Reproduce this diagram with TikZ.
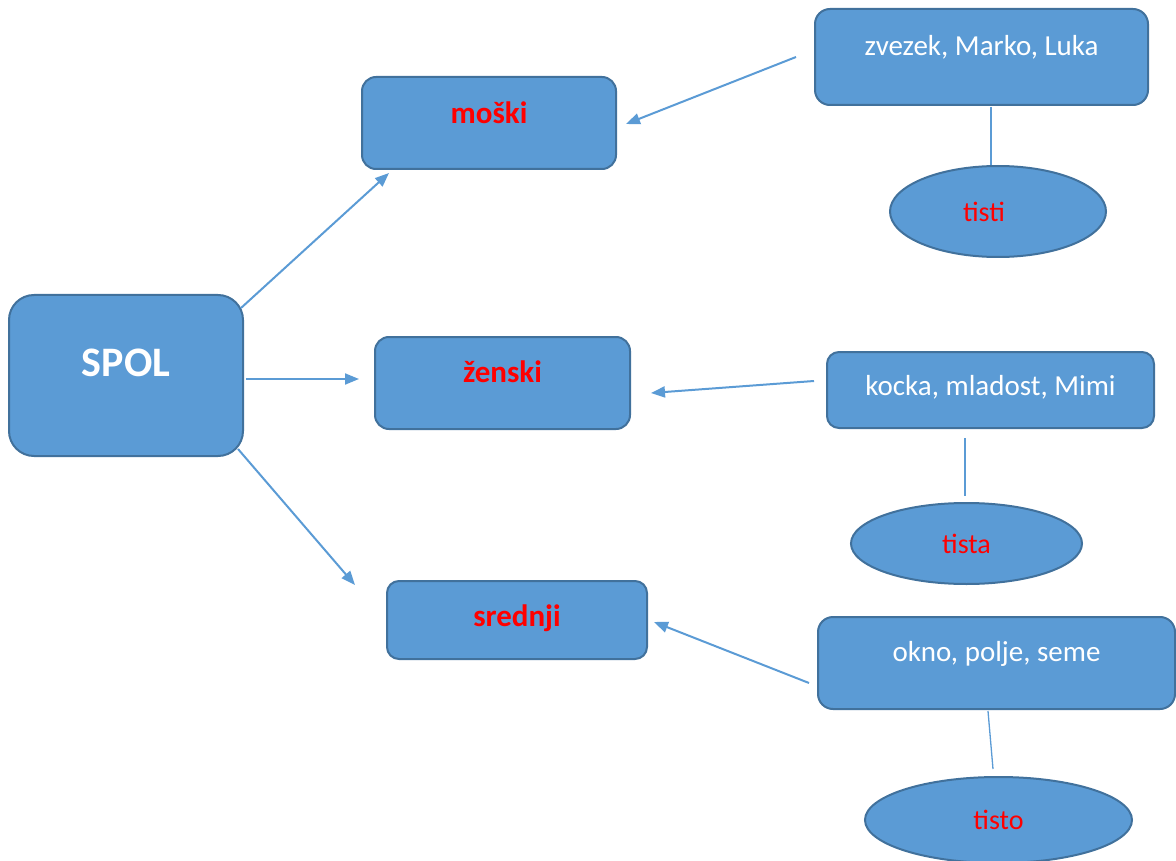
\documentclass[tikz,border=0pt]{standalone}
\usepackage{fontspec}
\setmainfont{Carlito}
\usetikzlibrary{shapes.geometric,arrows.meta,calc}
\definecolor{boxfill}{HTML}{5B9BD5}
\definecolor{boxline}{HTML}{41719C}
\definecolor{labred}{HTML}{FF0000}
\tikzset{
  box/.style={draw=boxline, fill=boxfill, line width=2pt, rectangle, rounded corners=14pt, inner sep=0pt, text=white},
  oval/.style={draw=boxline, fill=boxfill, line width=2pt, ellipse, inner sep=0pt, text=labred, font=\fontsize{28}{32}\selectfont},
  arr/.style={draw=boxfill, line width=2pt, -{Triangle[length=14pt,width=11pt]}},
  link/.style={draw=boxfill, line width=1.3pt},
  redlab/.style={text=labred, font=\bfseries\fontsize{31}{35}\selectfont},
  whitelab/.style={font=\fontsize{29}{34}\selectfont},
}
\begin{document}
\begin{tikzpicture}[x=1pt,y=-1pt]
\useasboundingbox (0,0) rectangle (1176,861);
% main box
\node[box, rounded corners=25pt, minimum width=234pt, minimum height=161pt, font=\bfseries\fontsize{42}{48}\selectfont] (spol) at (126,375.5) {\raisebox{25pt}{SPOL}};
% gender boxes
\node[box, redlab, minimum width=254pt, minimum height=92pt] (moski) at (489,123) {\raisebox{21pt}{moški}};
\node[box, redlab, minimum width=255pt, minimum height=92pt] (zenski) at (502.5,383) {\raisebox{22pt}{ženski}};
\node[box, redlab, rounded corners=12pt, minimum width=260pt, minimum height=78pt] (srednji) at (517,620) {\raisebox{9pt}{srednji}};
% example boxes
\node[box, whitelab, rounded corners=15pt, minimum width=333pt, minimum height=96pt] (zvezek) at (981.5,57) {\raisebox{23pt}{zvezek, Marko, Luka}};
\node[box, whitelab, rounded corners=12pt, minimum width=327pt, minimum height=76pt] (kocka) at (990.5,390) {\raisebox{10pt}{kocka, mladost, Mimi}};
\node[box, whitelab, rounded corners=15pt, minimum width=357pt, minimum height=92pt] (okno) at (996.5,663) {\raisebox{24pt}{okno, polje, seme}};
% pronoun ellipses
\node[oval, minimum width=216pt, minimum height=91pt] (tisti) at (998,211.5) {tisti\hspace*{28pt}};
\node[oval, minimum width=231pt, minimum height=81pt] (tista) at (966.5,543.5) {\raisebox{-9pt}{tista}};
\node[oval, minimum width=267pt, minimum height=86pt] (tisto) at (998.5,820) {tisto};
% arrows from SPOL
\draw[arr] ($(spol.east)+(-3,-67.5)$) -- ($(moski.south)+(-100,3)$);
\draw[arr] ($(spol.east)+(2,3.5)$) -- ($(zenski.west)+(-15,-4)$);
\draw[arr] ($(spol.east)+(-6,73.5)$) -- ($(srednji.west)+(-31,-35)$);
% arrows from examples
\draw[arr] ($(zvezek.west)+(-18,0)$) -- ($(moski.east)+(9,1)$);
\draw[arr] ($(kocka.west)+(-12,-9)$) -- ($(zenski.east)+(20,10)$);
\draw[arr] ($(okno.west)+(-8,20)$) -- ($(srednji.east)+(6,2)$);
% links to pronouns
\draw[link] ($(zvezek.south)+(9.5,1)$) -- ($(tisti.north)+(-7,0)$);
\draw[link] ($(kocka.south)+(-25.5,9)$) -- ($(tista.north)+(-1.5,-6)$);
\draw[link] ($(okno.south)+(-8.5,1)$) -- ($(tisto.north)+(-5.5,-7)$);
\end{tikzpicture}
\end{document}
